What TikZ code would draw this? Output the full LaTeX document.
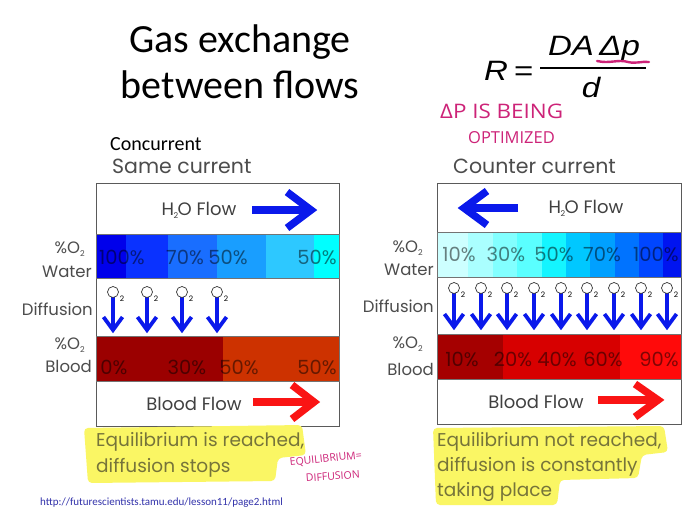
\documentclass[tikz,border=0pt]{standalone}
\usepackage{fontspec}
\setmainfont{Carlito}
\newfontfamily\cgf{Poppins}
\newfontfamily\arf{Liberation Sans}
\newfontfamily\hdf{Open Sans}
\definecolor{handpink}{RGB}{205,35,120}
\definecolor{hlyellow}{RGB}{250,246,100}
\definecolor{olivetext}{RGB}{118,116,58}
\definecolor{arrblue}{RGB}{10,25,235}
\definecolor{arrred}{RGB}{250,20,20}
\definecolor{urlblue}{RGB}{50,50,170}
\definecolor{boxgray}{RGB}{90,90,90}
\definecolor{lw1}{RGB}{0,0,235}
\definecolor{lw2}{RGB}{10,50,255}
\definecolor{lw3}{RGB}{25,110,255}
\definecolor{lw4}{RGB}{25,158,255}
\definecolor{lw5}{RGB}{45,200,255}
\definecolor{lw6}{RGB}{0,255,255}
\definecolor{lb1}{RGB}{155,0,0}
\definecolor{lb2}{RGB}{205,50,0}
\definecolor{rb1}{RGB}{165,0,0}
\definecolor{rb2}{RGB}{215,0,0}
\definecolor{rb3}{RGB}{255,10,10}
\definecolor{rw1}{RGB}{205,255,255}
\definecolor{rw2}{RGB}{170,255,255}
\definecolor{rw3}{RGB}{130,255,255}
\definecolor{rw4}{RGB}{90,255,255}
\definecolor{rw5}{RGB}{20,245,255}
\definecolor{rw6}{RGB}{0,200,255}
\definecolor{rw7}{RGB}{0,160,255}
\definecolor{rw8}{RGB}{0,115,255}
\definecolor{rw9}{RGB}{0,70,255}
\definecolor{rw10}{RGB}{0,20,240}
\begin{document}
\begin{tikzpicture}[x=1pt,y=-1pt,
  titlef/.style={font=\fontsize{40}{46}\selectfont, inner sep=0pt, anchor=base},
  sub/.style={font=\cgf\fontsize{20.5}{22}\selectfont, text=black!70, inner sep=0pt, anchor=base west},
  rowlbl/.style={font=\cgf\fontsize{18}{20}\selectfont, text=black!75, inner sep=0pt, anchor=base},
  sidelbl/.style={font=\cgf\fontsize{16.5}{18}\selectfont, text=black!70, inner sep=0pt, anchor=base east},
  pct/.style={font=\cgf\fontsize{19.5}{21}\selectfont, text=black, text opacity=0.5, inner sep=0pt, anchor=base},
  flowarrow/.style={line width=7.5pt, line join=miter},
  difarrow/.style={draw=arrblue, line width=3.8pt},
  otwo/.style={draw=black!80, fill=white, line width=0.7pt},
  band/.style={draw=black!55, line width=0.6pt},
  hand/.style={text=handpink, inner sep=0pt, anchor=base west},
  hltext/.style={font=\cgf\fontsize{18.5}{20}\selectfont, text=olivetext, inner sep=0pt, anchor=base west},
  formula/.style={font=\arf\itshape\fontsize{28}{30}\selectfont, inner sep=0pt, xscale=1.18}]
\useasboundingbox (0,0) rectangle (700,525);
\fill[white] (0,0) rectangle (700,525);

% title
\node[titlef] (t1) at (240,52) {Gas exchange};
\node[titlef] (t2) at (240,98) {between flows};

% formula
\node[formula, anchor=base west] (R) at (484,80) {R\,=};
\draw[line width=1.8pt] (540,68) -- (646,68);
\node[formula, anchor=base] (num) at (594,55) {DA\,Δp};
\node[formula, anchor=base] (den) at (591,97) {d};
\draw[handpink, line width=2.4pt, line cap=round] (597,61) .. controls (610,64) and (618,59) .. (628,62) .. controls (636,64) and (642,61) .. (649,62);
\node[hand, font=\hdf\fontsize{20}{22}\selectfont, xscale=1.12] (h1) at (440,118) {ΔP IS BEING};
\node[hand, font=\hdf\fontsize{16.5}{18}\selectfont] (h2) at (468,143) {OPTIMIZED};

% sub headings
\node[font=\fontsize{20}{22}\selectfont, inner sep=0pt, anchor=base west] (conc) at (110,150) {Concurrent};
\node[sub] (same) at (112,173) {Same current};
\node[sub] (counter) at (453,173) {Counter current};

% ---------- left box ----------
\draw[draw=boxgray, line width=0.9pt] (96,183) rectangle (339,426);
\fill[lw1] (96,234) rectangle (126,278);
\fill[lw2] (126,234) rectangle (168,278);
\fill[lw3] (168,234) rectangle (217,278);
\fill[lw4] (217,234) rectangle (266,278);
\fill[lw5] (266,234) rectangle (314,278);
\fill[lw6] (314,234) rectangle (339,278);
\draw[band] (96,234) rectangle (339,278);
\fill[lb1] (96,336) rectangle (223,381);
\fill[lb2] (223,336) rectangle (339,381);
\draw[band] (96,336) rectangle (339,381);

\node[rowlbl] (lh2o) at (199,215) {H\kern-0.5pt\raisebox{-0.35ex}{\fontsize{8}{9}\selectfont 2}\kern-0.5pt O Flow};
\draw[arrblue, flowarrow] (252,210) -- (308,210);
\draw[arrblue, flowarrow] (287,192) -- (311,210) -- (287,228);
\node[rowlbl] (lblood) at (194,410) {Blood Flow};
\draw[arrred, flowarrow] (253,402) -- (311,402);
\draw[arrred, flowarrow] (292,385) -- (314,402) -- (292,419);

\node[pct] (lw100) at (122,264) {100\%};
\node[pct] (lw70) at (185,264) {70\%};
\node[pct] (lw50a) at (228,264) {50\%};
\node[pct] (lw50b) at (317,264) {50\%};
\node[pct] (lb0) at (114,374) {0\%};
\node[pct] (lb30) at (187,374) {30\%};
\node[pct] (lb50a) at (239,374) {50\%};
\node[pct] (lb50b) at (317,374) {50\%};

\foreach \x in {113,147,182,217}{
  \draw[difarrow] (\x,297) -- (\x,330);
  \draw[difarrow] (\x-9.5,317) -- (\x,330) -- (\x+9.5,317);
  \draw[otwo] (\x,292) circle (5.5);
  \node[font=\cgf\fontsize{7.5}{8}\selectfont, inner sep=0pt] at (\x+9,299) {2};
}

% left side labels
\node[sidelbl] (lo2w) at (85,253) {\%O\raisebox{-0.35ex}{\fontsize{8}{9}\selectfont 2}};
\node[sidelbl] (lwat) at (92,277) {Water};
\node[sidelbl] (ldif) at (93,315) {Diffusion};
\node[sidelbl] (lo2b) at (85,349) {\%O\raisebox{-0.35ex}{\fontsize{8}{9}\selectfont 2}};
\node[sidelbl] (lbl) at (92,372) {Blood};

% ---------- right box ----------
\draw[draw=boxgray, line width=0.9pt] (437,183) rectangle (681,424);
\foreach \i/\a/\b in {1/437/468,2/468/493,3/493/517,4/517/542,5/542/566,6/566/590,7/590/615,8/615/639,9/639/663,10/663/681}{
  \fill[rw\i] (\a,232) rectangle (\b,277);
}
\draw[band] (437,232) rectangle (681,277);
\fill[rb1] (437,334) rectangle (503,379);
\fill[rb2] (503,334) rectangle (620,379);
\fill[rb3] (620,334) rectangle (681,379);
\draw[band] (437,334) rectangle (681,379);

\node[rowlbl] (rh2o) at (586,213) {H\kern-0.5pt\raisebox{-0.35ex}{\fontsize{8}{9}\selectfont 2}\kern-0.5pt O Flow};
\draw[arrblue, flowarrow] (518,208) -- (466,208);
\draw[arrblue, flowarrow] (487,191) -- (464,208) -- (487,225);
\node[rowlbl] (rblood) at (536,408) {Blood Flow};
\draw[arrred, flowarrow] (598,400) -- (656,400);
\draw[arrred, flowarrow] (635,384) -- (658,400) -- (635,417);

\node[pct] (rw10t) at (459,261) {10\%};
\node[pct] (rw30t) at (506,261) {30\%};
\node[pct] (rw50t) at (554,261) {50\%};
\node[pct] (rw70t) at (602,261) {70\%};
\node[pct] (rw100t) at (656,261) {100\%};
\node[pct] (rb10t) at (462,366) {10\%};
\node[pct] (rb20t) at (513,366) {20\%};
\node[pct] (rb40t) at (557,366) {40\%};
\node[pct] (rb60t) at (603,366) {60\%};
\node[pct] (rb90t) at (659,366) {90\%};

\foreach \x in {454,481,507,534,561,587,614,641,667}{
  \draw[difarrow] (\x,293) -- (\x,327);
  \draw[difarrow] (\x-9.5,314) -- (\x,327) -- (\x+9.5,314);
  \draw[otwo] (\x,288) circle (5.5);
  \node[font=\cgf\fontsize{7.5}{8}\selectfont, inner sep=0pt] at (\x+9,295) {2};
}

% right side labels
\node[sidelbl] (ro2w) at (423,252) {\%O\raisebox{-0.35ex}{\fontsize{8}{9}\selectfont 2}};
\node[sidelbl] (rwat) at (434,275) {Water};
\node[sidelbl] (rdif) at (434,312) {Diffusion};
\node[sidelbl] (ro2b) at (423,348) {\%O\raisebox{-0.35ex}{\fontsize{8}{9}\selectfont 2}};
\node[sidelbl] (rbl) at (434,375) {Blood};

% ---------- highlights ----------
\fill[hlyellow, rounded corners=4pt] (84,428) -- (302,425) -- (306,455) -- (278,458) -- (275,481) -- (88,483) -- cycle;
\fill[hlyellow, rounded corners=4pt] (433,428) -- (664,426) -- (668,452) -- (642,455) -- (638,478) -- (560,480) -- (557,505) -- (436,505) -- cycle;

\node[hltext] (eq1) at (96,446) {Equilibrium is reached,};
\node[hltext] (eq2) at (96,472) {diffusion stops};
\node[hltext] (ne1) at (437,446) {Equilibrium not reached,};
\node[hltext] (ne2) at (437,471) {diffusion is constantly};
\node[hltext] (ne3) at (437,496) {taking place};

\node[hand, font=\hdf\fontsize{10.5}{12}\selectfont, rotate=6] (eqd1) at (290,466) {EQUILIBRIUM=};
\node[hand, font=\hdf\fontsize{10.5}{12}\selectfont, rotate=4] (eqd2) at (306,482) {DIFFUSION};

% url
\node[font=\fontsize{11}{12}\selectfont, text=urlblue, inner sep=0pt, anchor=base west] (url) at (40,505) {http://futurescientists.tamu.edu/lesson11/page2.html};
\end{tikzpicture}
\end{document}
